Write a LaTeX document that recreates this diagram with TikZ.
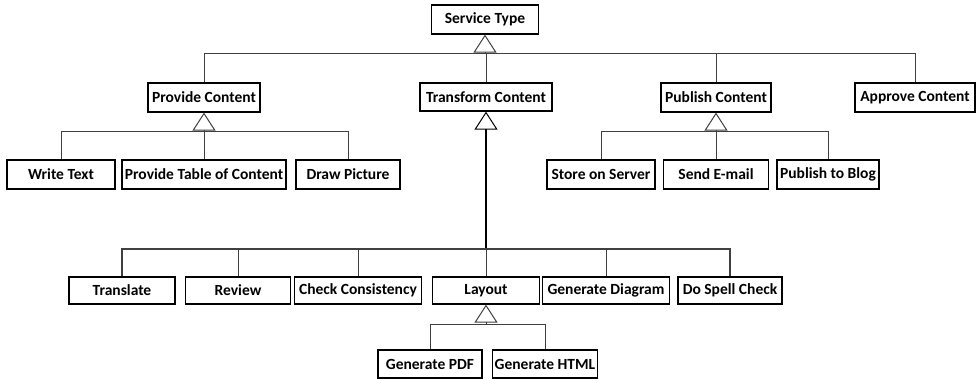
\documentclass[tikz,border=0pt]{standalone}
\usepackage{fontspec}
\setmainfont{Carlito}
\usetikzlibrary{arrows.meta}
\tikzset{
  cls/.style={draw=black, line width=1.2pt, fill=white, inner sep=0pt,
    font=\fontsize{15.5}{18}\selectfont\bfseries, text=black},
  link/.style={draw=black!75, line width=0.8pt},
  gen/.style={link, -{Triangle[open, length=18pt, width=23pt, line width=1pt]}}
}
\newcommand{\cls}[6]{\node[cls, minimum width=#4pt, minimum height=#5pt] (#1) at (#2,#3) {#6};}
\begin{document}
\begin{tikzpicture}[x=1pt, y=-1pt]
\useasboundingbox (0,0) rectangle (976,379);

% classes
\cls{st}{485}{19.5}{107}{29}{Service Type}
\cls{pc}{204}{97.5}{112}{29}{Provide Content}
\cls{tc}{486}{97}{132}{28}{Transform Content}
\cls{pub}{716}{97.5}{110}{29}{Publish Content}
\cls{ac}{915}{97.5}{120}{29}{Approve Content}
\cls{wt}{61}{174.5}{108}{29}{Write Text}
\cls{ptc}{204}{174.5}{164}{29}{Provide Table of Content}
\cls{dp}{348}{174.5}{104}{29}{Draw Picture}
\cls{sos}{601}{174.5}{108}{29}{Store on Server}
\cls{se}{716}{174.5}{105}{29}{Send E-mail}
\cls{ptb}{828}{174.5}{102}{29}{Publish to Blog}
\cls{tr}{122}{290.5}{106}{27}{Translate}
\cls{rv}{238}{290.5}{105}{27}{Review}
\cls{cc}{358}{290.5}{127}{27}{Check Consistency}
\cls{lay}{486}{290.5}{107}{27}{Layout}
\cls{gd}{606}{290.5}{127}{27}{Generate Diagram}
\cls{dsc}{730}{290.5}{104}{27}{Do Spell Check}
\cls{pdf}{430}{364}{104}{28}{Generate PDF}
\cls{html}{545}{364}{105}{28}{Generate HTML}

% junction points of the generalization buses
\coordinate (j0) at (485,53.5);
\coordinate (j1) at (204,131.5);
\coordinate (j2) at (716,131.5);
\coordinate (j3) at (486,249);
\coordinate (j4) at (486,324.5);

% Service Type
\draw[gen] (j0) -- (st.south);
\draw[link] (pc.north) -- (pc.north |- j0) -- (ac.north |- j0) -- (ac.north);
\draw[link] (tc.north) -- (tc.north |- j0);
\draw[link] (pub.north) -- (pub.north |- j0);

% Provide Content
\draw[gen] (j1) -- (pc.south);
\draw[link] (wt.north) -- (wt.north |- j1) -- (dp.north |- j1) -- (dp.north);
\draw[link] (ptc.north) -- (ptc.north |- j1);

% Publish Content
\draw[gen] (j2) -- (pub.south);
\draw[link] (sos.north) -- (sos.north |- j2) -- (ptb.north |- j2) -- (ptb.north);
\draw[link] (se.north) -- (se.north |- j2);

% Transform Content
\draw[gen, draw=black, line width=1.4pt] (j3) -- (tc.south);
\draw[link, line width=1.1pt] (tr.north) -- (tr.north |- j3) -- (dsc.north |- j3) -- (dsc.north);
\draw[link] (rv.north) -- (rv.north |- j3);
\draw[link] (cc.north) -- (cc.north |- j3);
\draw[link] (lay.north) -- (lay.north |- j3);
\draw[link] (gd.north) -- (gd.north |- j3);

% Layout
\draw[gen] (j4) -- (lay.south);
\draw[link] (pdf.north) -- (pdf.north |- j4) -- (html.north |- j4) -- (html.north);
\end{tikzpicture}
\end{document}
